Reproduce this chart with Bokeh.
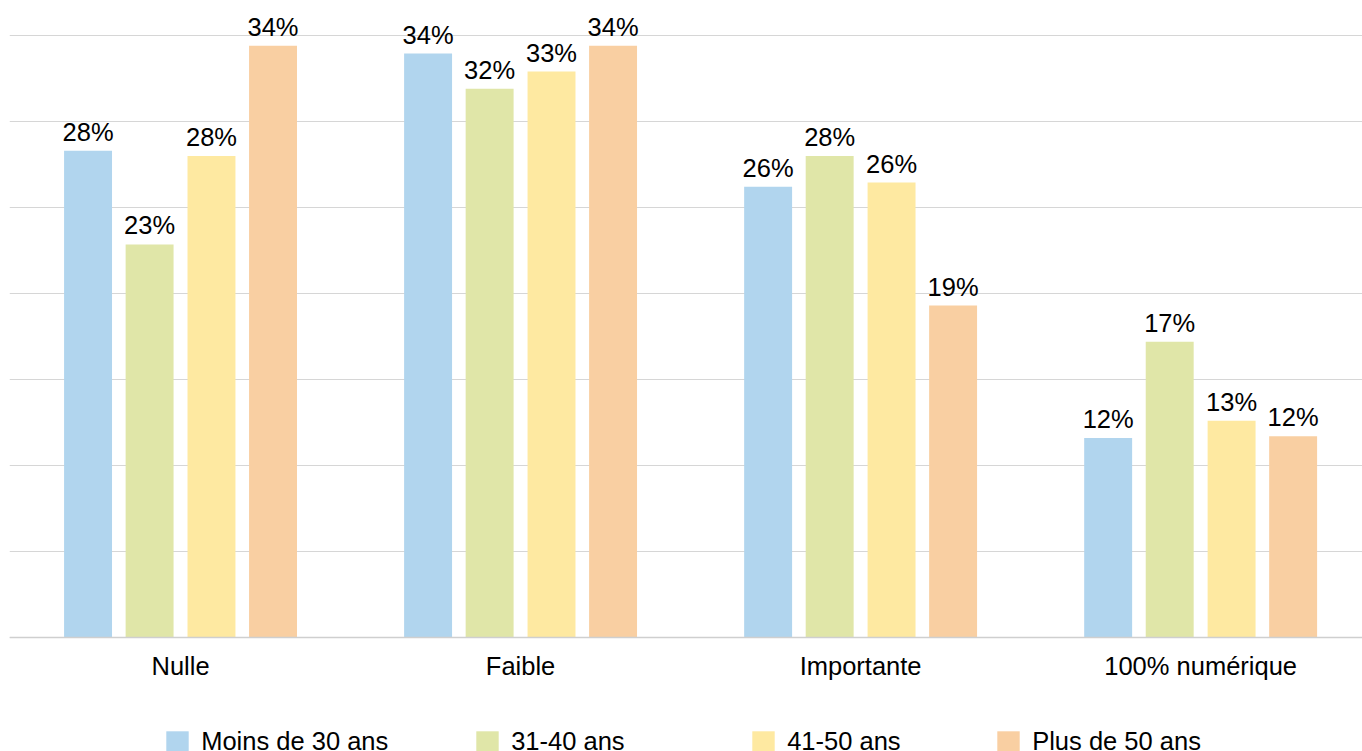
from bokeh.plotting import figure
from bokeh.models import (ColumnDataSource, Range1d, FixedTicker, LabelSet,
                          Legend, LegendItem, Span)
from bokeh.transform import dodge
from bokeh.core.properties import value
from bokeh.embed import file_html
from bokeh.resources import INLINE

# ---- data ----
categories = ["Nulle", "Faible", "Importante", "100% numérique"]
series_names = ["Moins de 30 ans", "31-40 ans", "41-50 ans", "Plus de 50 ans"]
moins_30 = [28.3, 33.95, 26.2, 11.6]
ans_31_40 = [22.85, 31.9, 28.0, 17.2]
ans_41_50 = [28.0, 32.9, 26.45, 12.6]
plus_50 = [34.4, 34.4, 19.3, 11.7]
y_ticks = [0, 5, 10, 15, 20, 25, 30, 35]

colors = ["#b1d5ee", "#e0e6a8", "#fee9a1", "#f9cfa2"]
offsets = [-0.272, -0.091, 0.091, 0.272]
FONT = "Liberation Sans"
FS = "25.5px"

values = [moins_30, ans_31_40, ans_41_50, plus_50]
data = {"x": list(range(len(categories))), "cat": categories,
        "zero": [0] * len(categories)}
for k, vals in enumerate(values):
    data[f"s{k}"] = vals
    data[f"l{k}"] = [f"{v:.0f}%" for v in vals]
src = ColumnDataSource(data)

W, H = 1362, 751
p = figure(width=W, height=H, output_backend="svg", toolbar_location=None,
           x_range=Range1d(-0.503, 3.476), y_range=Range1d(-6.628, 37.035),
           min_border_left=9, min_border_right=0, min_border_top=0,
           min_border_bottom=0)
p.outline_line_color = None
p.background_fill_color = "white"
p.xaxis.visible = False
p.yaxis.visible = False

# grid
p.ygrid.ticker = FixedTicker(ticks=y_ticks)
p.ygrid.grid_line_color = "#d6d6d6"
p.ygrid.grid_line_width = 1
p.xgrid.grid_line_color = None
p.add_layout(Span(location=0, dimension="width", line_color="#cfcfcf",
                  line_width=1.5))

renderers = []
for k in range(4):
    r = p.vbar(x=dodge("x", offsets[k], range=p.x_range), top=f"s{k}",
               width=0.141, source=src, fill_color=colors[k],
               line_color=None)
    renderers.append(r)
    lbl = LabelSet(x=dodge("x", offsets[k], range=p.x_range), y=f"s{k}",
                   text=f"l{k}", source=src, y_offset=10,
                   text_align="center", text_baseline="alphabetic",
                   text_font=value(FONT), text_font_size=value(FS),
                   text_color="black")
    p.add_layout(lbl)

# category labels under the baseline
cat_lbl = LabelSet(x="x", y="zero", text="cat", source=src, y_offset=-37.3,
                   text_align="center", text_baseline="alphabetic",
                   text_font=value(FONT), text_font_size=value(FS),
                   text_color="black")
p.add_layout(cat_lbl)

# legends, one per item
leg_x = [154.2, 464.2, 740.2, 985.2]
for k in range(4):
    leg = Legend(items=[LegendItem(label=series_names[k], renderers=[renderers[k]])],
                 location=(leg_x[k], -5.2), orientation="horizontal",
                 padding=0, margin=0, border_line_color=None,
                 background_fill_alpha=0, glyph_width=28, glyph_height=28,
                 label_standoff=10, label_text_font=FONT,
                 label_text_font_size=FS, label_text_color="black",
                 label_height=28)
    p.add_layout(leg, "center")

open("out.html", "w").write(file_html(p, INLINE))
